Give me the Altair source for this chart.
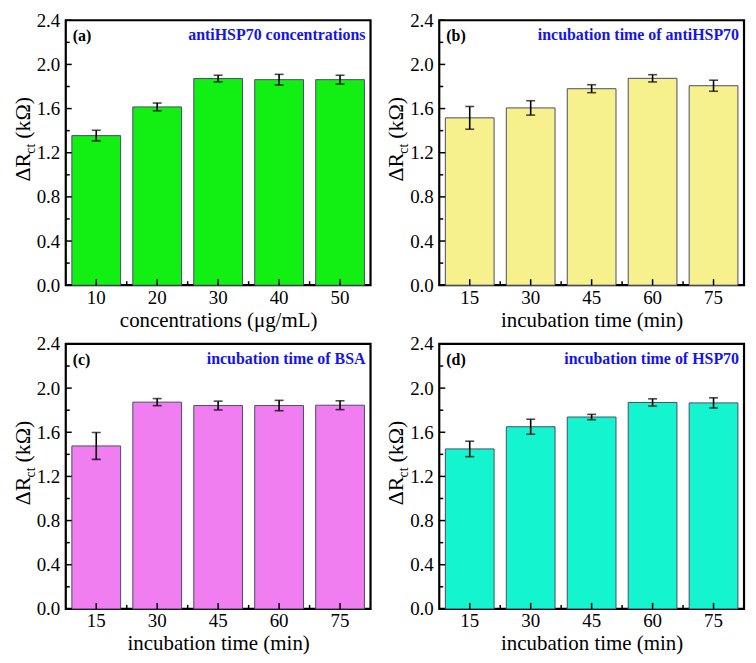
import altair as alt
import pandas as pd

# ---------------- data ----------------
cats_a = ["10", "20", "30", "40", "50"]
vals_a = [1.355, 1.615, 1.872, 1.862, 1.862]
errs_a = [0.048, 0.035, 0.030, 0.048, 0.040]

cats_b = ["15", "30", "45", "60", "75"]
vals_b = [1.516, 1.606, 1.780, 1.874, 1.807]
errs_b = [0.103, 0.065, 0.036, 0.033, 0.050]

cats_c = ["15", "30", "45", "60", "75"]
vals_c = [1.476, 1.873, 1.842, 1.842, 1.845]
errs_c = [0.122, 0.032, 0.040, 0.047, 0.040]

cats_d = ["15", "30", "45", "60", "75"]
vals_d = [1.449, 1.650, 1.738, 1.870, 1.866]
errs_d = [0.070, 0.068, 0.024, 0.033, 0.046]

panel_tags = ["(a)", "(b)", "(c)", "(d)"]
panel_notes = ["antiHSP70 concentrations", "incubation time of antiHSP70",
               "incubation time of BSA", "incubation time of HSP70"]
x_titles = ["concentrations (μg/mL)", "incubation time  (min)",
            "incubation time (min)", "incubation time (min)"]
fills = ["#12ef12", "#f6f18c", "#f07ef0", "#14f5cf"]

y_major = [0.0, 0.4, 0.8, 1.2, 1.6, 2.0, 2.4]
y_minor = [0.2, 0.6, 1.0, 1.4, 1.8, 2.2]

W, H = 306, 266
FONT = "Liberation Serif"


def panel(cats, vals, errs, tag, note, xtitle, fill):
    df = pd.DataFrame({
        "cat": cats,
        "val": vals,
        "lo": [v - e for v, e in zip(vals, errs)],
        "hi": [v + e for v, e in zip(vals, errs)],
    })
    xscale = alt.Scale(domain=cats, paddingInner=0.2, paddingOuter=0.1)
    yscale = alt.Scale(domain=[0, 2.4], nice=False)

    x = alt.X("cat:N", scale=xscale, sort=cats,
              axis=alt.Axis(title=xtitle, labelAngle=0, ticks=False, domain=False,
                            labelFont=FONT, labelFontSize=19, labelColor="black",
                            labelPadding=3, titleFont=FONT, titleFontSize=21,
                            titleFontWeight="normal", titleColor="black",
                            titlePadding=2))
    y = alt.Y("val:Q", scale=yscale,
              axis=alt.Axis(title=None, values=y_major, format=".1f", ticks=False,
                            domain=False, grid=False, labelFont=FONT, labelFontSize=19,
                            labelColor="black", labelPadding=6))

    base = alt.Chart(df)
    bars = base.mark_bar(stroke="#4b4b6b", strokeWidth=1, fill=fill).encode(x=x, y=y)
    err_rule = base.mark_rule(color="black", strokeWidth=1.6).encode(
        x=alt.X("cat:N", scale=xscale, sort=cats),
        y=alt.Y("lo:Q", scale=yscale), y2="hi:Q")
    cap_lo = base.mark_tick(color="black", thickness=1.6, size=9).encode(
        x=alt.X("cat:N", scale=xscale, sort=cats), y=alt.Y("lo:Q", scale=yscale))
    cap_hi = base.mark_tick(color="black", thickness=1.6, size=9).encode(
        x=alt.X("cat:N", scale=xscale, sort=cats), y=alt.Y("hi:Q", scale=yscale))

    # inward ticks
    ymaj = alt.Chart(pd.DataFrame({"v": y_major})).mark_rule(
        color="black", strokeWidth=1.5).encode(
        y=alt.Y("v:Q", scale=yscale), x=alt.value(0), x2=alt.value(6))
    ymin = alt.Chart(pd.DataFrame({"v": y_minor})).mark_rule(
        color="black", strokeWidth=1.5).encode(
        y=alt.Y("v:Q", scale=yscale), x=alt.value(0), x2=alt.value(4))
    xmaj = alt.Chart(pd.DataFrame({"cat": cats})).mark_rule(
        color="black", strokeWidth=1.5).encode(
        x=alt.X("cat:N", scale=xscale, sort=cats),
        y=alt.value(H), y2=alt.value(H - 6))
    step = W / (len(cats))
    xmin = alt.Chart(pd.DataFrame({"cat": cats[:-1]})).mark_rule(
        color="black", strokeWidth=1.5, xOffset=step * 0.1).encode(
        x=alt.X("cat:N", scale=xscale, sort=cats, bandPosition=1),
        y=alt.value(H), y2=alt.value(H - 4))

    one = pd.DataFrame({"k": [0]})
    tag_t = alt.Chart(one).mark_text(
        font=FONT, fontSize=16, fontWeight="bold", color="black",
        align="left", baseline="alphabetic").encode(
        x=alt.value(7), y=alt.value(21), text=alt.value(tag))
    note_t = alt.Chart(one).mark_text(
        font=FONT, fontSize=16, fontWeight="bold", color="#1515e8",
        align="right", baseline="alphabetic").encode(
        x=alt.value(W - 5), y=alt.value(20), text=alt.value(note))

    # y title: ΔR_ct (kΩ) with subscript
    t1 = alt.Chart(one).mark_text(
        font=FONT, fontSize=22, color="black", angle=270,
        align="left", baseline="alphabetic").encode(
        x=alt.value(-36), y=alt.value(162), text=alt.value("ΔR"))
    t2 = alt.Chart(one).mark_text(
        font=FONT, fontSize=14, color="black", angle=270,
        align="left", baseline="alphabetic").encode(
        x=alt.value(-31), y=alt.value(134), text=alt.value("ct"))
    t3 = alt.Chart(one).mark_text(
        font=FONT, fontSize=22, color="black", angle=270,
        align="left", baseline="alphabetic").encode(
        x=alt.value(-36), y=alt.value(119), text=alt.value("(kΩ)"))

    return alt.layer(bars, err_rule, cap_lo, cap_hi, ymaj, ymin, xmaj, xmin,
                     tag_t, note_t, t1, t2, t3).properties(width=W, height=H)


pa = panel(cats_a, vals_a, errs_a, panel_tags[0], panel_notes[0], x_titles[0], fills[0])
pb = panel(cats_b, vals_b, errs_b, panel_tags[1], panel_notes[1], x_titles[1], fills[1])
pc = panel(cats_c, vals_c, errs_c, panel_tags[2], panel_notes[2], x_titles[2], fills[2])
pd_ = panel(cats_d, vals_d, errs_d, panel_tags[3], panel_notes[3], x_titles[3], fills[3])

chart = alt.vconcat(
    alt.hconcat(pa, pb, spacing=11),
    alt.hconcat(pc, pd_, spacing=11),
    spacing=1,
).properties(
    padding={"left": 2, "top": 0, "right": 2, "bottom": 0}
).configure(
    background="white", font=FONT
).configure_axis(
    labelFont=FONT, titleFont=FONT
).configure_text(
    font=FONT
).configure_view(
    stroke="black", strokeWidth=2.2
)

chart.save("out.html", embed_options={"renderer": "svg", "actions": False})
